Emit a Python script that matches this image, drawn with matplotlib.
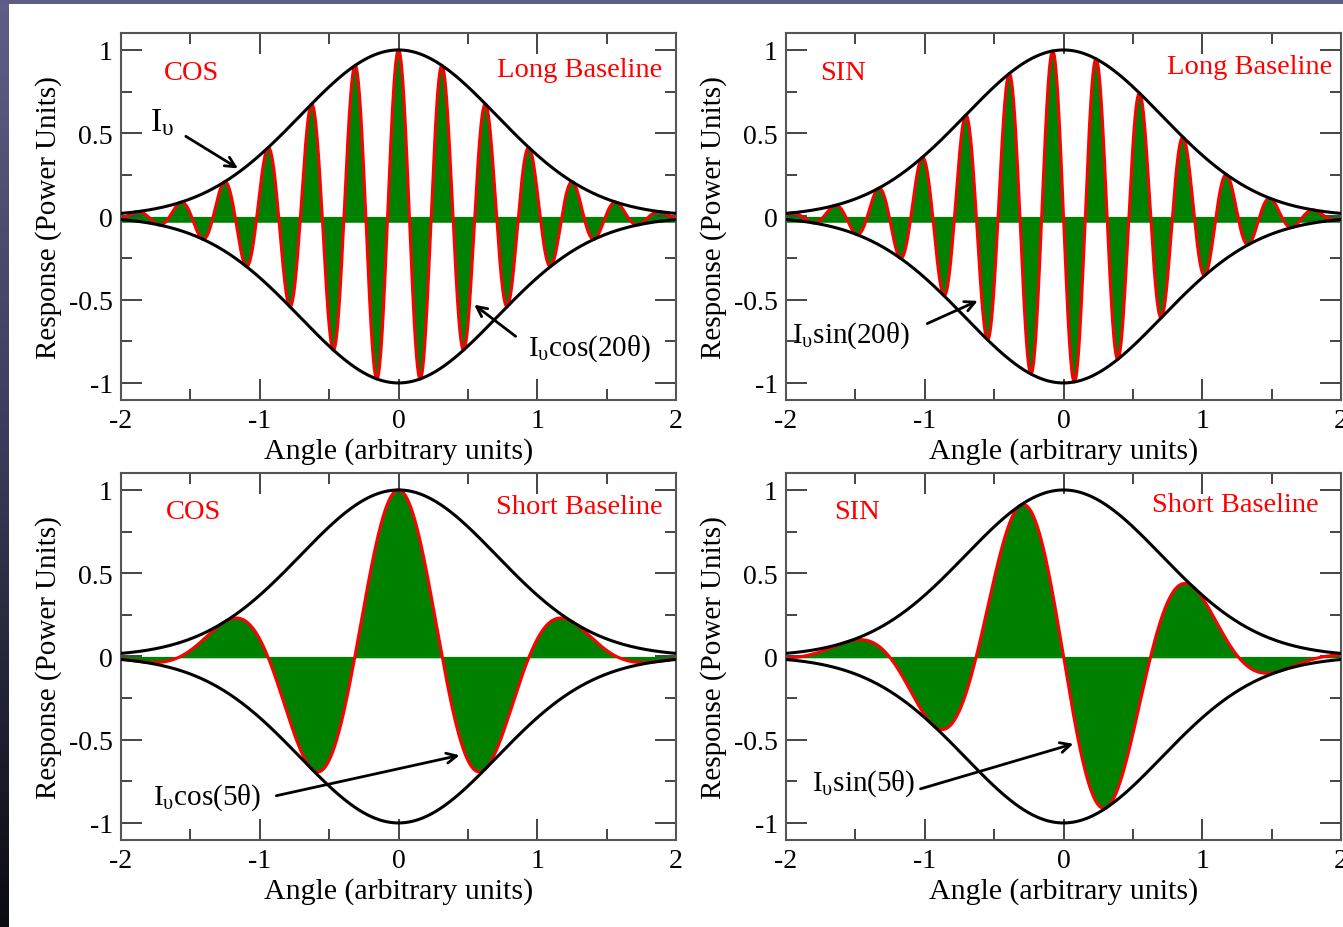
import numpy as np
import matplotlib
matplotlib.use("Agg")
import matplotlib.pyplot as plt
from matplotlib.ticker import MultipleLocator
from matplotlib.colors import LinearSegmentedColormap

plt.rcParams['font.family'] = ['Liberation Serif', 'DejaVu Serif']
plt.rcParams['mathtext.fontset'] = 'custom'
plt.rcParams['mathtext.rm'] = 'Liberation Serif'
plt.rcParams['mathtext.it'] = 'Liberation Serif:italic'
plt.rcParams['axes.unicode_minus'] = False

# ---- data ----
angle_range = [-2.0, 2.0]          # x limits of every panel
envelope_width = 1.0               # I_v = exp(-(theta/width)^2), read from peak heights
long_freq = 20                     # cos(20 theta), sin(20 theta)
short_freq = 5                     # cos(5 theta), sin(5 theta)
sin_sign = -1                      # sine panels peak at negative angle first

panels = [
    # (row, col, kind, freq, left label, right label, curve label)
    (0, 0, "cos", long_freq, "COS", "Long Baseline", r"I$_{\mathrm{υ}}$cos(20θ)"),
    (0, 1, "sin", long_freq, "SIN", "Long Baseline", r"I$_{\mathrm{υ}}$sin(20θ)"),
    (1, 0, "cos", short_freq, "COS", "Short Baseline", r"I$_{\mathrm{υ}}$cos(5θ)"),
    (1, 1, "sin", short_freq, "SIN", "Short Baseline", r"I$_{\mathrm{υ}}$sin(5θ)"),
]

# label positions (data coords)
kind_label_xy = [(-1.69, 0.865), (-1.755, 0.865), (-1.68, 0.87), (-1.65, 0.87)]
base_label_xy = [(1.90, 0.88), (1.935, 0.90), (1.90, 0.90), (1.84, 0.91)]
curve_label_xy = [(0.93, -0.79), (-1.96, -0.71), (-1.77, -0.84), (-1.81, -0.76)]
arrow_tail = [(0.86, -0.73), (-1.0, -0.65), (-0.90, -0.84), (-1.05, -0.80)]
arrow_tip = [(0.53, -0.52), (-0.60, -0.50), (0.46, -0.59), (0.09, -0.52)]
env_label_xy = (-1.79, 0.57)
env_arrow_tail = (-1.55, 0.49)
env_arrow_tip = (-1.14, 0.28)

theta = np.linspace(angle_range[0], angle_range[1], 4001)
envelope = np.exp(-(theta / envelope_width) ** 2)

W, H = 1343, 928
fig = plt.figure(figsize=(W / 100, H / 100), dpi=100)
fig.patch.set_facecolor('white')

# dark frame strips (left gradient, top band)
strip = fig.add_axes([0, 0, 9 / W, 1])
grad = np.linspace(0, 1, 256).reshape(-1, 1)
cm = LinearSegmentedColormap.from_list("frame", ["#5f5e87", "#3a3958", "#0b0b12"])
strip.imshow(grad, aspect='auto', cmap=cm, extent=[0, 1, 0, 1], origin='upper')
strip.axis('off')
top = fig.add_axes([0, 1 - 5 / H, 1, 5 / H])
top.set_facecolor('#5d5c84')
top.set_xticks([]); top.set_yticks([])
for s in top.spines.values():
    s.set_visible(False)

ax_left = [121 / W, 786 / W]
ax_bottom = [1 - 400.6 / H, 1 - 840.6 / H]
ax_w = 555 / W
ax_h = 366.3 / H

for i, (row, col, kind, freq, klab, blab, clab) in enumerate(panels):
    ax = fig.add_axes([ax_left[col], ax_bottom[row], ax_w, ax_h])
    if kind == "cos":
        resp = envelope * np.cos(freq * theta)
    else:
        resp = sin_sign * envelope * np.sin(freq * theta)

    band = 0.035 if freq == long_freq else 0.008
    ax.fill_between(theta, -band, 0, color='#008000', lw=0, zorder=1)
    ax.fill_between(theta, resp, 0, color='#008000', lw=0, zorder=1)
    ax.plot(theta, resp, color='#ff0000', lw=2.2, zorder=2)
    ax.plot(theta, envelope, color='black', lw=2.2, zorder=3)
    ax.plot(theta, -envelope, color='black', lw=2.2, zorder=3)

    ax.set_xlim(*angle_range)
    ax.set_ylim(-1.1, 1.1)
    ax.xaxis.set_major_locator(MultipleLocator(1))
    ax.xaxis.set_minor_locator(MultipleLocator(0.5))
    ax.yaxis.set_major_locator(MultipleLocator(0.5))
    ax.yaxis.set_minor_locator(MultipleLocator(0.25))
    ax.yaxis.set_major_formatter(plt.FuncFormatter(lambda v, p: f"{v:g}"))
    ax.tick_params(which='both', direction='in', top=True, right=True,
                   color='#444444', width=1.4, labelsize=20, pad=6)
    ax.tick_params(which='major', length=15)
    ax.tick_params(which='minor', length=8)
    for s in ax.spines.values():
        s.set_color('#555555')
        s.set_linewidth(1.5)

    ax.set_xlabel("Angle (arbitrary units)", fontsize=21.5, labelpad=3)
    ax.set_ylabel("Response (Power Units)", fontsize=21, labelpad=5)

    ax.text(*kind_label_xy[i], klab, color='#ff0000', fontsize=20.5,
            ha='left', va='center')
    ax.text(*base_label_xy[i], blab, color='#ff0000', fontsize=20.5,
            ha='right', va='center')
    ax.text(*curve_label_xy[i], clab, color='black', fontsize=21,
            ha='left', va='center')
    ax.annotate('', xy=arrow_tip[i], xytext=arrow_tail[i],
                arrowprops=dict(arrowstyle='->', lw=2, color='black',
                                mutation_scale=18), zorder=5)
    if i == 0:
        ax.text(*env_label_xy, r"I$_{\mathrm{υ}}$", color='black', fontsize=24,
                ha='left', va='center')
        ax.annotate('', xy=env_arrow_tip, xytext=env_arrow_tail,
                    arrowprops=dict(arrowstyle='->', lw=2, color='black',
                                    mutation_scale=18), zorder=5)

fig.savefig("out.png", dpi=100)
